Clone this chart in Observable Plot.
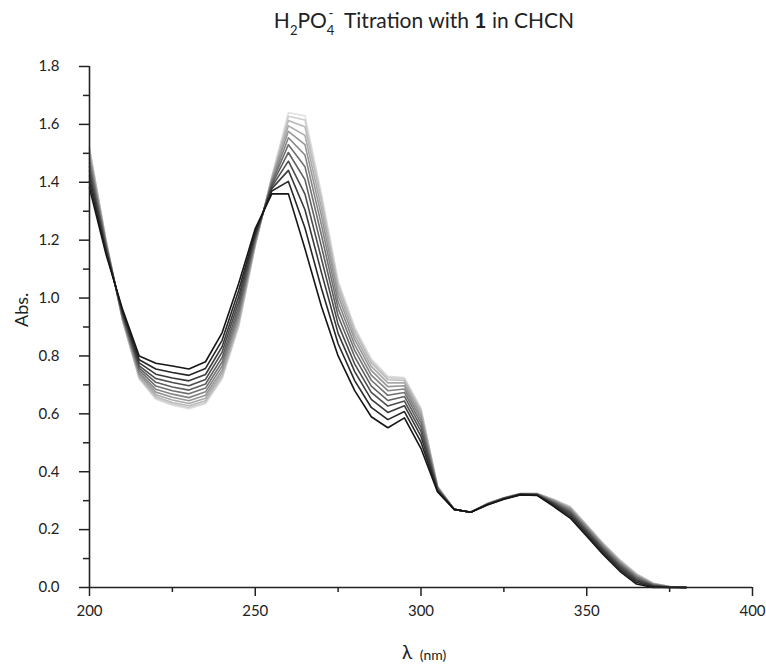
<!DOCTYPE html>
<html>
<head>
<meta charset="utf-8">
<script src="https://cdn.jsdelivr.net/npm/d3@7"></script>
<script src="https://cdn.jsdelivr.net/npm/@observablehq/plot@0.6"></script>
<style>
  html, body { margin: 0; padding: 0; background: #fff; }
  #wrap { width: 766px; height: 667px; position: relative; font-family: Lato, "Open Sans", sans-serif; color: #222; }
  #title { height: 45px; width: 766px; position: relative; }
  #title .t { position: absolute; left: 424px; top: 7px; transform: translateX(-50%); font-size: 21px; white-space: nowrap; }
  .sub { font-size: 13px; position: relative; top: 7px; }
  .sup { font-size: 13px; position: relative; top: -10px; margin-left: -6px; margin-right: 6px; }
</style>
</head>
<body>
<div id="wrap">
  <div id="title"><div class="t">H<span class="sub">2</span>PO<span class="sub">4</span><span class="sup">-</span> Titration with <b>1</b> in CHCN</div></div>
  <div id="chart"></div>
</div>
<script>
// Wavelengths (nm)
const wavelengths = [200,205,210,215,220,225,230,235,240,245,250,255,260,265,270,275,280,285,290,295,300,305,310,315,320,325,330,335,340,345,350,355,360,365,370,375,380];

// Absorbance spectra, first (darkest, no anion) to last (lightest, saturated)
const abs0  = [1.38,1.15,0.96,0.80,0.775,0.765,0.755,0.78,0.88,1.05,1.24,1.36,1.36,1.17,0.97,0.80,0.68,0.59,0.552,0.586,0.48,0.33,0.27,0.26,0.285,0.305,0.32,0.318,0.28,0.24,0.177,0.113,0.056,0.012,0,0,0];
const abs1  = [1.402,1.158,0.954,0.787,0.755,0.743,0.733,0.757,0.854,1.026,1.23,1.37,1.403,1.242,1.032,0.842,0.715,0.622,0.58,0.608,0.502,0.333,0.27,0.26,0.286,0.306,0.321,0.319,0.284,0.246,0.183,0.119,0.062,0.018,0.002,0,0];
const abs2  = [1.422,1.165,0.948,0.776,0.737,0.724,0.714,0.736,0.832,1.005,1.222,1.378,1.441,1.305,1.087,0.878,0.746,0.65,0.605,0.628,0.522,0.336,0.27,0.26,0.287,0.307,0.322,0.32,0.288,0.252,0.189,0.125,0.068,0.023,0.005,0.001,0];
const abs3  = [1.439,1.171,0.943,0.766,0.722,0.708,0.697,0.719,0.813,0.987,1.215,1.385,1.473,1.359,1.134,0.909,0.772,0.674,0.627,0.644,0.539,0.338,0.27,0.26,0.287,0.307,0.322,0.321,0.291,0.257,0.194,0.13,0.073,0.027,0.006,0.001,0];
const abs4  = [1.454,1.177,0.939,0.758,0.709,0.693,0.682,0.703,0.795,0.97,1.208,1.392,1.503,1.409,1.177,0.938,0.797,0.696,0.646,0.66,0.554,0.341,0.27,0.26,0.288,0.308,0.323,0.322,0.293,0.261,0.198,0.134,0.077,0.031,0.008,0.002,0];
const abs5  = [1.468,1.182,0.935,0.75,0.696,0.68,0.669,0.689,0.779,0.955,1.202,1.398,1.53,1.454,1.216,0.964,0.819,0.716,0.664,0.674,0.568,0.343,0.27,0.26,0.288,0.308,0.323,0.322,0.296,0.265,0.202,0.138,0.081,0.035,0.009,0.002,0];
const abs6  = [1.481,1.186,0.931,0.742,0.685,0.668,0.656,0.676,0.765,0.942,1.197,1.403,1.554,1.494,1.251,0.987,0.838,0.734,0.68,0.686,0.581,0.344,0.27,0.26,0.289,0.309,0.324,0.323,0.298,0.269,0.206,0.142,0.085,0.038,0.011,0.002,0];
const abs7  = [1.492,1.19,0.928,0.736,0.675,0.657,0.645,0.664,0.752,0.93,1.192,1.408,1.576,1.53,1.282,1.008,0.856,0.75,0.694,0.697,0.592,0.346,0.27,0.26,0.289,0.309,0.324,0.324,0.30,0.272,0.209,0.145,0.088,0.041,0.012,0.002,0];
const abs8  = [1.502,1.194,0.925,0.73,0.666,0.648,0.636,0.654,0.741,0.919,1.188,1.412,1.595,1.562,1.309,1.026,0.871,0.764,0.707,0.707,0.602,0.347,0.27,0.26,0.289,0.309,0.324,0.324,0.302,0.275,0.212,0.148,0.091,0.043,0.013,0.003,0];
const abs9  = [1.51,1.197,0.923,0.726,0.659,0.639,0.628,0.645,0.731,0.91,1.184,1.416,1.613,1.592,1.333,1.042,0.885,0.776,0.718,0.715,0.61,0.349,0.27,0.26,0.29,0.31,0.325,0.325,0.303,0.277,0.214,0.15,0.093,0.045,0.014,0.003,0];
const abs10 = [1.516,1.199,0.921,0.722,0.654,0.634,0.622,0.639,0.725,0.904,1.182,1.418,1.628,1.615,1.348,1.052,0.893,0.784,0.725,0.721,0.616,0.349,0.27,0.26,0.29,0.31,0.325,0.325,0.304,0.279,0.216,0.152,0.095,0.047,0.015,0.003,0];
const abs11 = [1.52,1.20,0.92,0.72,0.65,0.63,0.618,0.635,0.72,0.90,1.18,1.42,1.64,1.63,1.36,1.06,0.90,0.79,0.73,0.725,0.62,0.35,0.27,0.26,0.29,0.31,0.325,0.325,0.305,0.28,0.217,0.153,0.096,0.048,0.015,0.003,0];

// Axis ticks
const xTicks = [200,250,300,350,400];
const xMinorTicks = [225,275,325,375];
const yTicks = [0,0.2,0.4,0.6,0.8,1.0,1.2,1.4,1.6,1.8];
const yMinorTicks = [0.1,0.3,0.5,0.7,0.9,1.1,1.3,1.5,1.7];

const curves = [abs0,abs1,abs2,abs3,abs4,abs5,abs6,abs7,abs8,abs9,abs10,abs11];
const rows = [];
for (let i = curves.length - 1; i >= 0; i--) {
  curves[i].forEach((v, j) => rows.push({lambda: wavelengths[j], abs: v, step: i}));
}

const axisStyle = {stroke: "#222", strokeWidth: 1.5};
const chart = Plot.plot({
  width: 766,
  height: 622,
  marginLeft: 89,
  marginRight: 14,
  marginTop: 21,
  marginBottom: 80,
  x: {domain: [200, 400]},
  y: {domain: [0, 1.8]},
  color: {type: "linear", domain: [0, curves.length - 1], range: ["#151515", "#e0e0e0"]},
  style: {fontFamily: "Lato, 'Open Sans', sans-serif", fontSize: "15px", color: "#222", background: "#fff"},
  marks: [
    Plot.line(rows, {x: "lambda", y: "abs", z: "step", stroke: "step", strokeWidth: 1.6}),
    Plot.ruleX([200], {stroke: "#222", strokeWidth: 1.6}),
    Plot.ruleY([0], {stroke: "#222", strokeWidth: 1.6}),
    Plot.axisY(yTicks, {tickSize: 10, tickPadding: 20, tickFormat: d => d.toFixed(1), label: null, ...axisStyle}),
    Plot.axisY(yMinorTicks, {tickSize: 6, tickFormat: () => "", label: null, ...axisStyle}),
    Plot.axisX(xTicks, {tickSize: 9, tickPadding: 9, tickFormat: d => String(d), label: null, ...axisStyle}),
    Plot.axisX(xMinorTicks, {tickSize: 5, tickFormat: () => "", label: null, ...axisStyle}),
    Plot.text(["Abs."], {frameAnchor: "left", dx: -67, rotate: -90, fontSize: 18, fill: "#222"}),
    Plot.text(["λ"], {frameAnchor: "bottom", dx: -14, dy: 71, fontSize: 19, fill: "#222"}),
    Plot.text(["(nm)"], {frameAnchor: "bottom", dx: 12, dy: 72, fontSize: 14, fill: "#222"})
  ]
});
document.getElementById("chart").appendChild(chart);
</script>
</body>
</html>
